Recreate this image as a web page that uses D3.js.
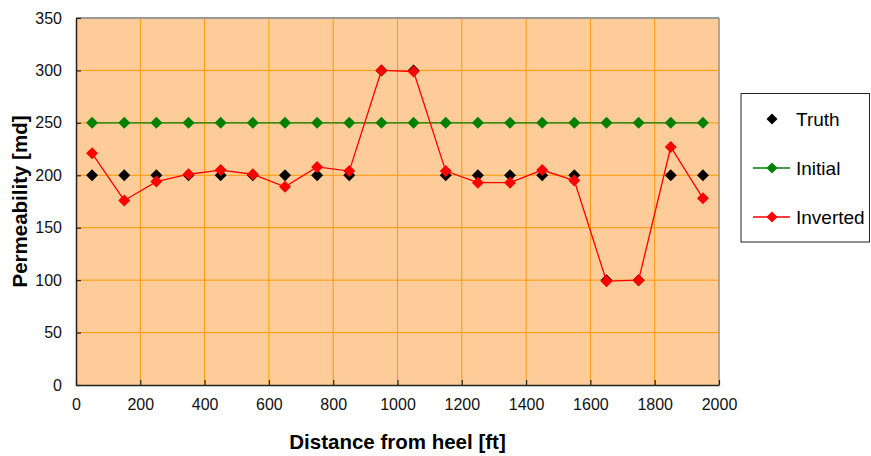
<!DOCTYPE html>
<html><head><meta charset="utf-8">
<script src="https://cdn.jsdelivr.net/npm/d3@7"></script>
<style>body{margin:0;background:#fff;} svg{display:block;font-family:"Liberation Sans",Arial,sans-serif;}</style>
</head><body>
<svg id="c" width="871" height="456"></svg>
<script>
const distance = [50,150,250,350,450,550,650,750,850,950,1050,1150,1250,1350,1450,1550,1650,1750,1850,1950];
const truth    = [200,200,200,200,200,200,200,200,200,300,300,200,200,200,200,200,100,100,200,200];
const initial  = [250,250,250,250,250,250,250,250,250,250,250,250,250,250,250,250,250,250,250,250];
const inverted = [221,176,194,201,205,201,189,208,204,300,299,204,193,193,205,195,99,100,227,178];
const xTicks = [0,200,400,600,800,1000,1200,1400,1600,1800,2000];
const yTicks = [0,50,100,150,200,250,300,350];
const seriesNames = ["Truth","Initial","Inverted"];

const svg = d3.select("#c");
const L=76, R=719, T=18, B=385;
const x = d3.scaleLinear().domain([0,2000]).range([L,R]);
const y = d3.scaleLinear().domain([0,350]).range([B,T]);

svg.append("rect").attr("x",L).attr("y",T).attr("width",R-L).attr("height",B-T).attr("fill","#FECC99");
// grid
svg.append("g").selectAll("line").data(xTicks.slice(1,-1)).join("line")
  .attr("x1",d=>x(d)).attr("x2",d=>x(d)).attr("y1",T).attr("y2",B)
  .attr("stroke","#FF9900").attr("stroke-width",1);
svg.append("g").selectAll("line").data(yTicks.slice(1,-1)).join("line")
  .attr("x1",L).attr("x2",R).attr("y1",d=>y(d)).attr("y2",d=>y(d))
  .attr("stroke","#FF9900").attr("stroke-width",1);
// borders
svg.append("line").attr("x1",L).attr("x2",R).attr("y1",T).attr("y2",T).attr("stroke","#999").attr("stroke-width",2);
svg.append("line").attr("x1",R).attr("x2",R).attr("y1",T).attr("y2",B).attr("stroke","#9a8f80").attr("stroke-width",1.5);

// axes
const fmt = d3.format("d");
const xAxis = d3.axisBottom(x).tickValues(xTicks).tickFormat(fmt).tickSizeInner(-5).tickSizeOuter(0).tickPadding(20);
const gx = svg.append("g").attr("transform",`translate(0,${B})`).call(xAxis);
const yAxis = d3.axisLeft(y).tickValues(yTicks).tickFormat(fmt).tickSizeInner(-5).tickSizeOuter(0).tickPadding(14);
const gy = svg.append("g").attr("transform",`translate(${L},0)`).call(yAxis);
[gx,gy].forEach(g=>{
  g.select(".domain").attr("stroke","#222").attr("stroke-width",1.5);
  g.selectAll(".tick line").attr("stroke","#222").attr("stroke-width",1.2);
  g.selectAll(".tick text").attr("fill","#111").attr("font-size",16).attr("font-family","Liberation Sans, Arial, sans-serif");
});
gx.selectAll(".tick text").attr("dy","0.3em");

svg.append("text").attr("x",(L+R)/2).attr("y",449).attr("text-anchor","middle")
  .attr("font-size",20.5).attr("font-weight","bold").attr("fill","#000").text("Distance from heel [ft]");
svg.append("text").attr("transform",`translate(27,${(T+B)/2}) rotate(-90)`).attr("text-anchor","middle")
  .attr("font-size",20.5).attr("font-weight","bold").attr("fill","#000").text("Permeability [md]");

const diamond = r => `M0,${-r}L${r},0L0,${r}L${-r},0Z`;
const line = d3.line().x(d=>x(d[0])).y(d=>y(d[1]));

const series = [
  {name:seriesNames[0], vals:truth, color:"#000000", line:false},
  {name:seriesNames[1], vals:initial, color:"#008000", line:true},
  {name:seriesNames[2], vals:inverted, color:"#FF0000", line:true}
];
series.forEach(s=>{
  const pts = distance.map((d,i)=>[d,s.vals[i]]);
  if(s.line) svg.append("path").attr("d",line(pts)).attr("fill","none").attr("stroke",s.color).attr("stroke-width",1.3);
  svg.append("g").selectAll("path").data(pts).join("path")
    .attr("d",diamond(6)).attr("transform",d=>`translate(${x(d[0])},${y(d[1])})`).attr("fill",s.color);
});

// legend
const lg = svg.append("g");
lg.append("rect").attr("x",741).attr("y",93.5).attr("width",128.5).attr("height",148.5)
  .attr("fill","#fff").attr("stroke","#222").attr("stroke-width",1);
const ly = [119,168,217];
series.forEach((s,i)=>{
  if(s.line) lg.append("line").attr("x1",753).attr("x2",790).attr("y1",ly[i]).attr("y2",ly[i]).attr("stroke",s.color).attr("stroke-width",1.3);
  lg.append("path").attr("d",diamond(5.5)).attr("transform",`translate(772,${ly[i]})`).attr("fill",s.color);
  lg.append("text").attr("x",796).attr("y",ly[i]).attr("dy","0.36em").attr("font-size",19).attr("fill","#000").text(s.name);
});
</script>
</body></html>
